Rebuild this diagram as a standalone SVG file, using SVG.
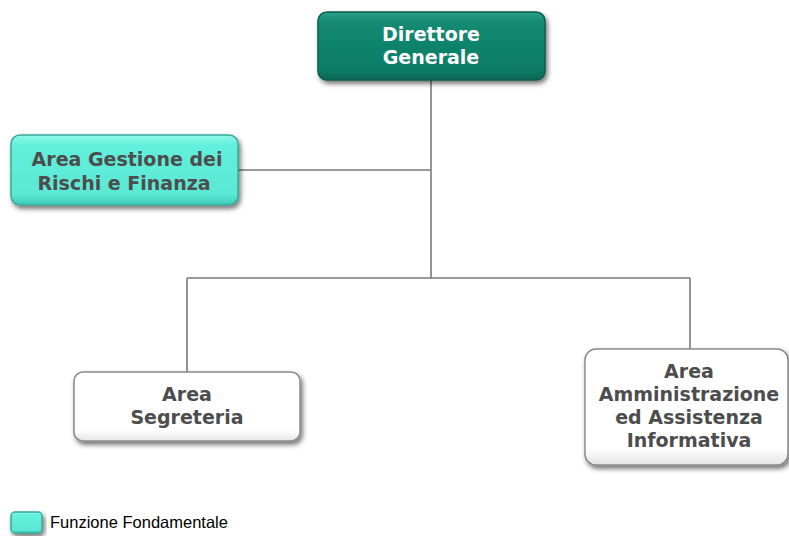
<svg xmlns="http://www.w3.org/2000/svg" width="789" height="536" viewBox="0 0 789 536">
<defs>
<filter id="sh" x="-10%" y="-10%" width="125%" height="135%">
<feDropShadow dx="2" dy="3" stdDeviation="2.5" flood-color="#000" flood-opacity="0.55"/>
</filter>
<linearGradient id="gDir" x1="0" y1="0" x2="0" y2="1">
<stop offset="0" stop-color="#2aa088"/><stop offset="0.15" stop-color="#128a71"/><stop offset="0.85" stop-color="#107c66"/><stop offset="1" stop-color="#0b6654"/>
</linearGradient>
<linearGradient id="gCyan" x1="0" y1="0" x2="0" y2="1">
<stop offset="0" stop-color="#8ff8ea"/><stop offset="0.15" stop-color="#62f0dc"/><stop offset="0.85" stop-color="#5ae8d4"/><stop offset="1" stop-color="#3ccab6"/>
</linearGradient>
<linearGradient id="gWhite" x1="0" y1="0" x2="0" y2="1">
<stop offset="0" stop-color="#ffffff"/><stop offset="0.85" stop-color="#ffffff"/><stop offset="1" stop-color="#e4e4e4"/>
</linearGradient>
</defs>
<style>
.box{filter:url(#sh);stroke-width:1.5}
.t{font-family:"DejaVu Sans","Liberation Sans",sans-serif;font-weight:bold;font-size:19px;text-anchor:middle}
.dark{fill:#4d4d4d}
.line{stroke:#7a7a7a;stroke-width:1.6;fill:none}
</style>
<rect width="789" height="536" fill="#fff"/>
<g id="connectors">
<path class="line" d="M431 80V278M238 170H431M187 278H690M187 278V372M690 278V349"/>
</g>
<g id="direttore">
<rect class="box" x="318" y="12" width="227" height="68" rx="9" fill="url(#gDir)" stroke="#0a5c4c"/>
<text class="t" x="431" y="41" fill="#fff">Direttore</text>
<text class="t" x="431" y="64" fill="#fff">Generale</text>
</g>
<g id="gestione">
<rect class="box" x="11" y="135" width="227" height="70" rx="9" fill="url(#gCyan)" stroke="#3aa898"/>
<text class="t dark" x="127" y="166">Area Gestione dei</text>
<text class="t dark" x="124" y="190">Rischi e Finanza</text>
</g>
<g id="segreteria">
<rect class="box" x="74" y="372" width="226" height="69" rx="9" fill="url(#gWhite)" stroke="#8a8a8a"/>
<text class="t dark" x="187" y="401">Area</text>
<text class="t dark" x="187" y="424">Segreteria</text>
</g>
<g id="amministrazione">
<rect class="box" x="585" y="349" width="203" height="116" rx="11" fill="url(#gWhite)" stroke="#8a8a8a"/>
<text class="t dark" x="689" y="378">Area</text>
<text class="t dark" x="689" y="401">Amministrazione</text>
<text class="t dark" x="689" y="424">ed Assistenza</text>
<text class="t dark" x="689" y="447">Informativa</text>
</g>
<g id="legend">
<rect class="box" x="11" y="512" width="31" height="21" rx="4" fill="url(#gCyan)" stroke="#3aa898"/>
<text x="50" y="528" style="font-family:'Liberation Sans',Arial,sans-serif;font-size:16.5px;fill:#000">Funzione Fondamentale</text>
</g>
</svg>
